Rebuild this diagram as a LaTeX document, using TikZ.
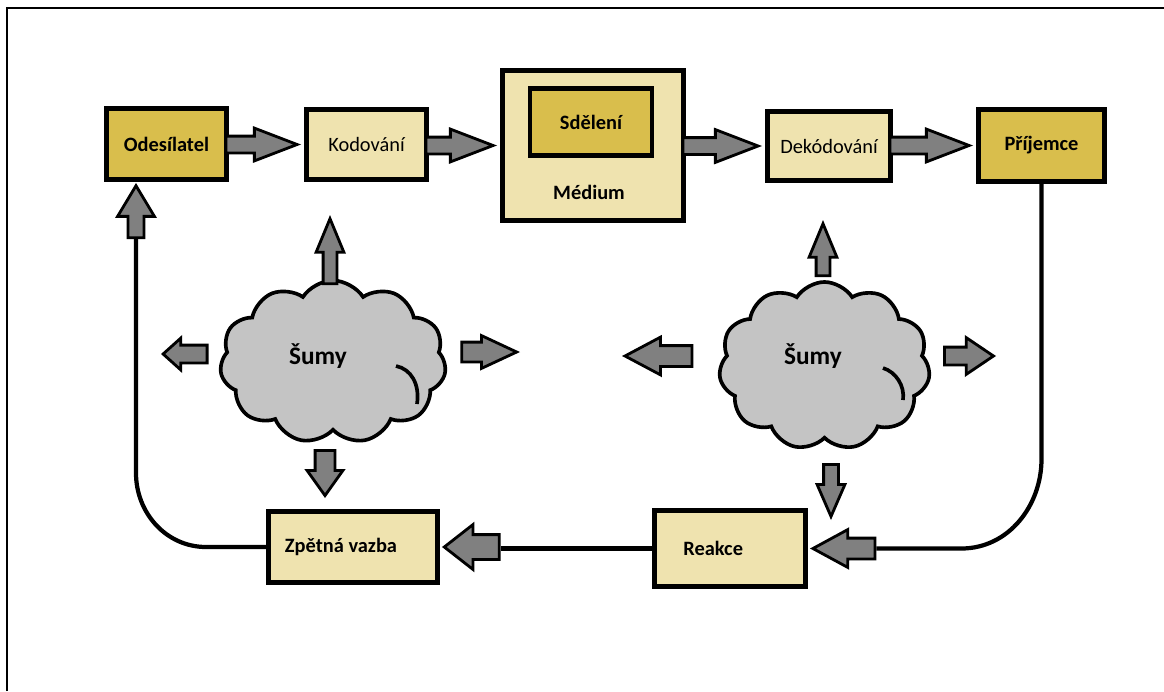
\documentclass[tikz,border=0pt]{standalone}
\usepackage{fontspec}
\setmainfont{Carlito}
\usepackage{tikz}
\usetikzlibrary{calc,shapes.arrows,shapes.symbols}
\definecolor{figline}{RGB}{0,0,0}
\definecolor{figdark}{RGB}{217,190,76}
\definecolor{figlight}{RGB}{239,227,175}
\definecolor{figarrow}{RGB}{128,128,128}
\definecolor{figcloud}{RGB}{196,196,196}
\tikzset{
  txt/.style   ={font=\fontsize{14.5}{17}\selectfont},
  btxt/.style  ={font=\fontsize{14.5}{17}\selectfont\bfseries},
  ntxt/.style  ={font=\fontsize{18}{21}\selectfont\bfseries},
  box/.style   ={draw=figline, line width=3.5pt, inner sep=0pt},
  dbox/.style  ={box, fill=figdark, btxt},
  lbox/.style  ={box, fill=figlight, txt},
  blk/.style   ={single arrow, draw=figline, fill=figarrow, line width=2pt,
                 inner xsep=0pt, single arrow head indent=0pt, anchor=tip},
  barr/.style n args={4}{blk, minimum height=#1, inner ysep=#2,
                 single arrow head extend=#3, single arrow tip angle=#4},
  noise/.style ={cloud, cloud puffs=11, cloud puff arc=115, cloud ignores aspect,
                 draw=figline, fill=figcloud, line width=2.6pt},
  fb/.style    ={draw=figline, line width=3pt},
  crease/.style={draw=figline, line width=2.6pt},
  frame/.style ={draw=figline, line width=1.4pt},
}

\begin{document}
\begin{tikzpicture}[x=0.025cm,y=-0.025cm]
  \useasboundingbox (0,0) rectangle (1164,691);
  \draw[frame] (7,691) -- (7,8) -- (1164,8);
  % top row
  \node[dbox, minimum width=3cm, minimum height=1.775cm] (od) at (166.5,144) {Odesílatel};
  \node[lbox, minimum width=3cm, minimum height=1.75cm] (kod) at (366.5,144.5) {Kodování};
  \node[lbox, minimum width=4.525cm, minimum height=3.75cm] (med) at (593,145.5) {};
  \node[dbox, minimum width=3.05cm, minimum height=1.675cm] (sdel) at (591,122) {Sdělení};
  \node[btxt] (medlab) at (589,192) {Médium};
  \node[lbox, minimum width=3.075cm, minimum height=1.725cm] (dek) at (829,146) {Dekódování};
  \node[dbox, minimum width=3.15cm, minimum height=1.8cm] (pri) at (1041.5,145.5) {Příjemce};
  % bottom row
  \node[lbox, minimum width=4.225cm, minimum height=1.775cm,
        label={[btxt,xshift=-0.3cm]center:Zpětná vazba}] (zv) at (353,547) {};
  \node[lbox, minimum width=3.775cm, minimum height=1.9cm,
        label={[btxt,xshift=-0.42cm]center:Reakce}] (rea) at (730,548.5) {};
  % main flow
  \node[barr={1.775cm}{0.175cm}{0.2cm}{42}] (a1) at ($(kod.west)+(-3,0)$) {};
  \node[barr={1.675cm}{0.175cm}{0.2cm}{42}] (a2) at ($(med.west)+(-3,0)$) {};
  \node[barr={1.875cm}{0.175cm}{0.2cm}{42}] (a3) at ($(dek.west)+(-3,0)$) {};
  \node[barr={1.975cm}{0.175cm}{0.2cm}{42}] (a4) at ($(pri.west)+(-3,0)$) {};
  % feedback
  \node[barr={1.3cm}{0.1625cm}{0.2625cm}{62}, rotate=90] (aod) at ($(od.south)+(-30.5,1)$) {};
  \node[barr={1.375cm}{0.275cm}{0.25cm}{76}, rotate=180] (azv) at ($(zv.east)+(2,0)$) {};
  \node[barr={1.55cm}{0.225cm}{0.2125cm}{57}, rotate=180] (are) at ($(rea.east)+(2,0)$) {};
  \draw[fb] (zv.west) -- ++(-60,0) to[out=180,in=-90] ($(aod.tail)+(0,234)$) -- (aod.tail);
  \draw[fb] (pri.south) -- ++(0,275) to[out=-90,in=0] ($(are.tail)+(85,0)$) -- (are.tail);
  \draw[fb] (rea.west) -- (rea.west -| azv.tail);
  % noise
  \node[noise, minimum width=5.65cm, minimum height=4.075cm,
        label={[ntxt,xshift=-0.375cm,yshift=0.15cm]center:Šumy}] (n1) at (333,362) {};
  \node[noise, minimum width=5.275cm, minimum height=4.2cm,
        label={[ntxt,xshift=-0.29cm,yshift=0.25cm]center:Šumy}] (n2) at (824.5,366) {};
  \draw[crease] (396,366) .. controls (411,369) and (420,384) .. (417,404);
  \draw[crease] (883,368) .. controls (896,372) and (905,386) .. (903,400);
  \node[barr={1.625cm}{0.1375cm}{0.175cm}{45}, rotate=90] (n1u) at (330,215) {};
  \node[barr={1.1cm}{0.1875cm}{0.175cm}{84}, rotate=180] (n1l) at (161,354) {};
  \node[barr={1.375cm}{0.2125cm}{0.1625cm}{50}] (n1r) at (520,352) {};
  \node[barr={1.125cm}{0.2125cm}{0.2cm}{71}, rotate=-90] (n1d) at (325,498) {};
  \node[barr={1.3cm}{0.1375cm}{0.175cm}{45}, rotate=90] (n2u) at (823,220) {};
  \node[barr={1.675cm}{0.225cm}{0.2125cm}{56}, rotate=180] (n2l) at (622,356) {};
  \node[barr={1.225cm}{0.1875cm}{0.2375cm}{68}] (n2r) at (996,356) {};
  \node[barr={1.3cm}{0.15cm}{0.1625cm}{47}, rotate=-90] (n2d) at (831,520) {};
\end{tikzpicture}
\end{document}
